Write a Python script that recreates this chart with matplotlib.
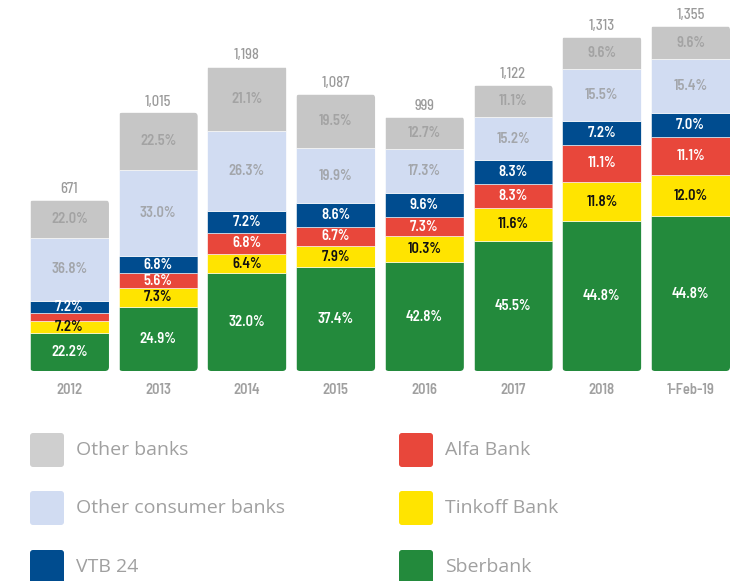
import matplotlib
matplotlib.use("Agg")
import matplotlib.pyplot as plt
from matplotlib.patches import FancyBboxPatch
import numpy as np

years = ["2012", "2013", "2014", "2015", "2016", "2017", "2018", "1-Feb-19"]
totals = [671, 1015, 1198, 1087, 999, 1122, 1313, 1355]
total_labels = ["671", "1,015", "1,198", "1,087", "999", "1,122", "1,313", "1,355"]

# shares (%) bottom -> top
sberbank = [22.2, 24.9, 32.0, 37.4, 42.8, 45.5, 44.8, 44.8]
tinkoff = [7.2, 7.3, 6.4, 7.9, 10.3, 11.6, 11.8, 12.0]
alfa = [4.6, 5.6, 6.8, 6.7, 7.3, 8.3, 11.1, 11.1]
vtb = [7.2, 6.8, 7.2, 8.6, 9.6, 8.3, 7.2, 7.0]
other_consumer = [36.8, 33.0, 26.3, 19.9, 17.3, 15.2, 15.5, 15.4]
other_banks = [22.0, 22.5, 21.1, 19.5, 12.7, 11.1, 9.6, 9.6]

series = [
    ("Sberbank", sberbank, "#238a3c", "white"),
    ("Tinkoff Bank", tinkoff, "#ffe400", "#111111"),
    ("Alfa Bank", alfa, "#e8473b", "white"),
    ("VTB 24", vtb, "#004c8f", "white"),
    ("Other consumer banks", other_consumer, "#d1dcf2", "#a3a6ab"),
    ("Other banks", other_banks, "#c6c6c6", "#a3a3a3"),
]
show_label = {"Alfa Bank": [False, True, True, True, True, True, True, True]}

W, H = 734, 581
fig = plt.figure(figsize=(W / 100, H / 100), dpi=100)
ax = fig.add_axes([30 / W, (H - 371) / H, 700 / W, 345 / H])
bw = 0.89
n = len(years)
x = np.arange(n)
ax.set_xlim(-bw / 2, n - 1 + bw / 2)
ax.set_ylim(0, 1355)
ax.axis("off")

cond = ["Barlow Semi Condensed", "Barlow Condensed", "DejaVu Sans"]

# rounding in data units
px_x = (n - 1 + bw) / 700.0
px_y = 1355 / 345.0
r = 4 * px_x
aspect = px_y / px_x

bottoms = np.zeros(n)
tot = np.array(totals, dtype=float)
for name, vals, col, tcol in series:
    h = tot * np.array(vals) / 100.0
    bars = ax.bar(x, h, bottom=bottoms, width=bw, color=col,
                  edgecolor="white", linewidth=0.4)
    for i in range(n):
        clip = FancyBboxPatch((x[i] - bw / 2, 0), bw, tot[i],
                              boxstyle=f"round,pad=0,rounding_size={r}",
                              mutation_aspect=aspect, transform=ax.transData,
                              facecolor="none", edgecolor="none")
        bars[i].set_clip_path(clip)
        if show_label.get(name, [True] * n)[i]:
            ax.text(x[i], bottoms[i] + h[i] / 2, f"{vals[i]:.1f}%",
                    ha="center", va="center", color=tcol, fontsize=10.5,
                    fontweight="semibold", family=cond)
    bottoms = bottoms + h

for i in range(n):
    ax.annotate(total_labels[i], xy=(x[i], tot[i]), xytext=(0, 11),
                textcoords="offset pixels", ha="center", va="center",
                color="#9a9a9a", fontsize=10.5, fontweight="medium", family=cond,
                annotation_clip=False)
    ax.annotate(years[i], xy=(x[i], 0), xytext=(0, -19),
                textcoords="offset pixels", ha="center", va="center",
                color="#a0a0a0", fontsize=10.5, fontweight="semibold", family=cond,
                annotation_clip=False)

# legend
legend_order = [("Other banks", "#cfcfcf"), ("Alfa Bank", "#e8473b"),
                ("Other consumer banks", "#d1dcf2"), ("Tinkoff Bank", "#ffe400"),
                ("VTB 24", "#004c8f"), ("Sberbank", "#238a3c")]
cols_x = [30, 399]
rows_y = [450, 508, 567]
for k, (lab, col) in enumerate(legend_order):
    cx = cols_x[k % 2]
    cy = rows_y[k // 2]
    sq = 34
    p = FancyBboxPatch((cx / W, (H - cy - sq / 2) / H), sq / W, sq / H,
                       boxstyle=f"round,pad=0,rounding_size={3 / W}",
                       mutation_aspect=W / H, transform=fig.transFigure,
                       facecolor=col, edgecolor="none")
    fig.patches.append(p)
    fig.text((cx + 46) / W, (H - cy) / H, lab, ha="left", va="center",
             color="#a0a0a0", fontsize=14, family=["Open Sans", "DejaVu Sans"])

fig.savefig("out.png", dpi=100)
